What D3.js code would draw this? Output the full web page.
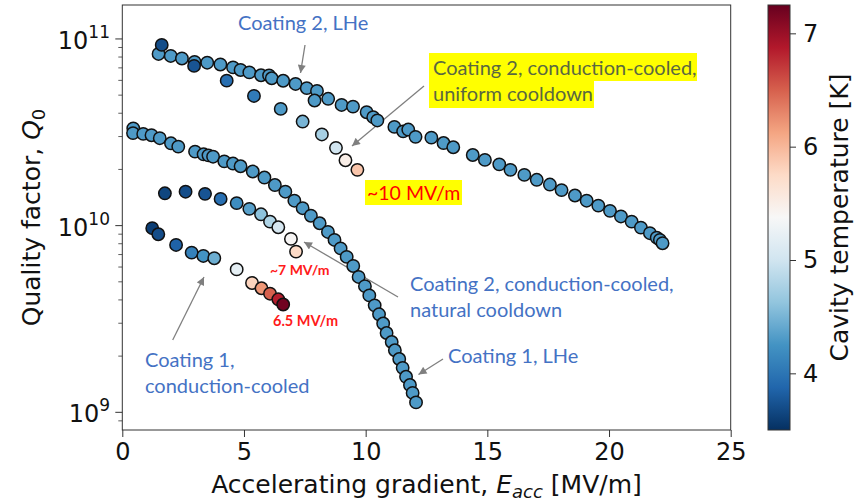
<!DOCTYPE html>
<html>
<head>
<meta charset="utf-8">
<script src="https://cdn.jsdelivr.net/npm/d3@7/dist/d3.min.js"></script>
<style>
  body { margin: 0; background: #fff; }
  svg { display: block; }
</style>
</head>
<body>
<div id="chart"></div>
<script>
// ---- data (E_acc in MV/m, Q0, cavity temperature in K) ----

// Coating 2, LHe
const c2LheE = [1.49, 1.99, 2.45, 2.97, 3.49, 4.03, 4.55, 4.86, 5.22, 5.70, 6.03, 6.14, 6.61, 7.12, 7.58, 8.00, 7.90, 8.46, 9.01, 9.48,
  10.04, 10.31, 10.48, 11.18, 11.54, 11.75, 12.05, 12.70, 13.20, 13.60, 14.40, 14.90, 15.49, 15.95, 16.52, 17.03, 17.57, 18.05, 18.60, 19.08,
  19.56, 20.04, 20.49, 20.93, 21.31, 21.68, 21.96, 22.09, 22.20];
const c2LheQ = [8.31e10, 8.11e10, 7.86e10, 7.53e10, 7.46e10, 7.30e10, 7.04e10, 6.82e10, 6.62e10, 6.39e10, 6.38e10, 6.16e10, 5.97e10, 5.74e10, 5.45e10, 5.27e10, 4.68e10, 4.78e10, 4.43e10, 4.34e10,
  4.05e10, 3.81e10, 3.66e10, 3.38e10, 3.20e10, 3.27e10, 2.99e10, 2.96e10, 2.77e10, 2.63e10, 2.39e10, 2.25e10, 2.13e10, 1.99e10, 1.87e10, 1.76e10, 1.66e10, 1.55e10, 1.45e10, 1.36e10,
  1.28e10, 1.20e10, 1.12e10, 1.05e10, 9.76e9, 9.11e9, 8.62e9, 8.38e9, 8.05e9];

// Coating 1, LHe
const c1LheE = [0.45, 0.44, 0.86, 1.20, 1.54, 2.00, 2.30, 2.99, 3.34, 3.54, 3.73, 4.19, 4.55, 4.86, 5.36, 5.84, 6.27, 6.70, 7.07, 7.41,
  7.75, 8.11, 8.45, 8.72, 8.97, 9.22, 9.49, 9.71, 9.97, 10.15, 10.37, 10.55, 10.72, 10.86, 11.07, 11.20, 11.38, 11.52, 11.66, 11.82,
  11.93, 12.07];
const c1LheQ = [3.32e10, 3.13e10, 3.10e10, 3.05e10, 2.94e10, 2.76e10, 2.65e10, 2.49e10, 2.41e10, 2.38e10, 2.34e10, 2.21e10, 2.15e10, 2.08e10, 1.95e10, 1.81e10, 1.65e10, 1.52e10, 1.36e10, 1.24e10,
  1.13e10, 1.03e10, 9.25e9, 8.38e9, 7.55e9, 6.80e9, 6.08e9, 5.31e9, 4.74e9, 4.23e9, 3.74e9, 3.35e9, 2.99e9, 2.66e9, 2.38e9, 2.15e9, 1.93e9, 1.73e9, 1.55e9, 1.40e9,
  1.27e9, 1.13e9];

const lheTemp = 4.3;

// Coating 2, conduction-cooled, uniform cooldown
const c2UniE = [1.62, 2.95, 4.29, 5.41, 6.51, 7.41, 8.20, 8.78, 9.17, 9.66];
const c2UniQ = [9.29e10, 7.17e10, 5.98e10, 4.95e10, 4.22e10, 3.61e10, 3.08e10, 2.61e10, 2.24e10, 1.99e10];
const c2UniT = [3.7, 3.75, 3.95, 4.05, 4.3, 4.5, 4.75, 5.0, 5.5, 5.9];

// Coating 2, conduction-cooled, natural cooldown
const c2NatE = [1.75, 2.60, 3.40, 4.04, 4.70, 5.22, 5.70, 6.07, 6.41, 6.93, 7.14];
const c2NatQ = [1.49e10, 1.52e10, 1.48e10, 1.39e10, 1.32e10, 1.23e10, 1.15e10, 1.05e10, 9.80e9, 8.49e9, 7.26e9];
const c2NatT = [3.65, 3.7, 3.75, 3.95, 4.2, 4.35, 4.6, 4.8, 5.05, 5.4, 5.75];

// Coating 1, conduction-cooled
const c1CondE = [1.23, 1.48, 2.21, 2.85, 3.33, 3.78, 4.70, 5.33, 5.72, 6.07, 6.41, 6.61];
const c1CondQ = [9.69e9, 8.99e9, 7.88e9, 7.17e9, 6.88e9, 6.69e9, 5.83e9, 4.93e9, 4.62e9, 4.32e9, 4.03e9, 3.78e9];
const c1CondT = [3.6, 3.7, 3.85, 4.1, 4.25, 4.45, 5.2, 5.8, 6.2, 6.5, 6.85, 7.2];

const xTicks = [0, 5, 10, 15, 20, 25];
const yDecades = [9, 10, 11];
const cbTicks = [4, 5, 6, 7];
const tRange = [3.5, 7.25];

// RdBu_r colour steps (matplotlib style, piecewise linear)
const rdbuR = ["#053061", "#2166ac", "#4393c3", "#92c5de", "#d1e5f0", "#f7f7f7",
               "#fddbc7", "#f4a582", "#d6604d", "#b2182b", "#67001f"];

// ---- layout ----
const W = 859, H = 504;
const pL = 122.3, pR = 730.7, pT = 5, pB = 430;
const cbX = 768, cbW = 22;
const tickFont = "DejaVu Sans, sans-serif";
const noteFont = "Lato, 'Open Sans', sans-serif";
const blue = "#4472c4";

const svg = d3.select("#chart").append("svg")
  .attr("width", W)
  .attr("height", H);

const x = d3.scaleLinear().domain([0, 25]).range([pL, pR]);
const y = d3.scaleLog().domain([8.04e8, 1.52e11]).range([pB, pT]);

const tScale = d3.scaleLinear()
  .domain(d3.range(rdbuR.length).map(i => tRange[0] + i * (tRange[1] - tRange[0]) / (rdbuR.length - 1)))
  .range(rdbuR)
  .interpolate(d3.interpolateRgb)
  .clamp(true);

// ---- arrow marker ----
const defs = svg.append("defs");
defs.append("marker")
  .attr("id", "arr")
  .attr("viewBox", "0 0 10 10")
  .attr("refX", 10).attr("refY", 5)
  .attr("markerWidth", 9).attr("markerHeight", 8)
  .attr("markerUnits", "userSpaceOnUse")
  .attr("orient", "auto")
  .append("path")
  .attr("d", "M0,0 L10,5 L0,10 z")
  .attr("fill", "#7f7f7f");

// ---- axes ----
const xAxis = svg.append("g")
  .attr("transform", `translate(0,${pB})`)
  .call(d3.axisBottom(x).tickValues(xTicks).tickSize(7).tickPadding(6).tickFormat(d3.format("d")));
xAxis.select(".domain").remove();
xAxis.selectAll("text").attr("font-family", tickFont).attr("font-size", 24).attr("fill", "#111");
xAxis.selectAll("line").attr("stroke", "#333");

// y axis: major and minor ticks on a log scale
const minor = [];
for (let e = 8; e <= 11; e++) for (let m = 2; m <= 9; m++) {
  const v = m * Math.pow(10, e);
  if (v >= y.domain()[0] && v <= y.domain()[1]) minor.push(v);
}
const yg = svg.append("g");
yg.selectAll("line.minor").data(minor).join("line").attr("class", "minor")
  .attr("x1", pL - 4).attr("x2", pL)
  .attr("y1", d => y(d)).attr("y2", d => y(d))
  .attr("stroke", "#333").attr("stroke-width", 0.8);
yg.selectAll("line.major").data(yDecades).join("line").attr("class", "major")
  .attr("x1", pL - 7).attr("x2", pL)
  .attr("y1", d => y(Math.pow(10, d))).attr("y2", d => y(Math.pow(10, d)))
  .attr("stroke", "#333").attr("stroke-width", 1);
const yl = yg.selectAll("text").data(yDecades).join("text")
  .attr("x", 110)
  .attr("y", d => y(Math.pow(10, d)) + 10)
  .attr("text-anchor", "end")
  .attr("font-family", tickFont).attr("font-size", 24).attr("fill", "#111");
yl.append("tspan").text("10");
yl.append("tspan").attr("dy", -11).attr("font-size", 17).text(d => d);

// frame
svg.append("rect")
  .attr("x", pL).attr("y", pT)
  .attr("width", pR - pL).attr("height", pB - pT)
  .attr("fill", "none").attr("stroke", "#333").attr("stroke-width", 1);

// axis labels
const xl = svg.append("text")
  .attr("x", (pL + pR) / 2).attr("y", 493)
  .attr("text-anchor", "middle")
  .attr("font-family", tickFont).attr("font-size", 25).attr("fill", "#111");
xl.append("tspan").text("Accelerating gradient, ");
xl.append("tspan").attr("font-style", "italic").text("E");
xl.append("tspan").attr("font-style", "italic").attr("font-size", 18).attr("dy", 5).text("acc");
xl.append("tspan").attr("dy", -5).text(" [MV/m]");

const ylab = svg.append("text")
  .attr("transform", `translate(40,${(pT + pB) / 2}) rotate(-90)`)
  .attr("text-anchor", "middle")
  .attr("font-family", tickFont).attr("font-size", 25).attr("fill", "#111");
ylab.append("tspan").text("Quality factor, ");
ylab.append("tspan").attr("font-style", "italic").text("Q");
ylab.append("tspan").attr("font-size", 18).attr("dy", 5).text("0");

// ---- annotations (drawn under the points) ----
function note(lines, x0, y0, lh, color, size, weight) {
  const t = svg.append("text")
    .attr("font-family", noteFont).attr("font-size", size)
    .attr("font-weight", weight || "normal").attr("fill", color);
  lines.forEach((s, i) => t.append("tspan").attr("x", x0).attr("y", y0 + i * lh).text(s));
  return t;
}
function arrow(x1, y1, x2, y2) {
  svg.append("line")
    .attr("x1", x1).attr("y1", y1).attr("x2", x2).attr("y2", y2)
    .attr("stroke", "#7f7f7f").attr("stroke-width", 1.3)
    .attr("marker-end", "url(#arr)");
}

// yellow highlights
svg.append("rect").attr("x", 429).attr("y", 53).attr("width", 268).attr("height", 28).attr("fill", "#ffff00");
svg.append("rect").attr("x", 429).attr("y", 80).attr("width", 165).attr("height", 28).attr("fill", "#ffff00");
svg.append("rect").attr("x", 365).attr("y", 180).attr("width", 97).attr("height", 25).attr("fill", "#ffff00");

note(["Coating 2, LHe"], 238, 30, 26, blue, 20);
arrow(305, 45, 300.5, 73);

note(["Coating 2, conduction-cooled,", "uniform cooldown"], 433, 75, 26, "#5a6840", 20);
arrow(424, 86, 352, 146);

note(["~10 MV/m"], 367, 200, 26, "#ff0000", 19.5);

note(["Coating 2, conduction-cooled,", "natural cooldown"], 410, 291, 26, blue, 20);
arrow(398, 297, 304, 242);

note(["Coating 1, LHe"], 448, 363, 26, blue, 20);
arrow(443, 359, 418.5, 374.5);

note(["Coating 1,", "conduction-cooled"], 145, 367, 26, blue, 20);
arrow(172.7, 340, 204, 277);

note(["~7 MV/m"], 270, 275, 20, "#ff1a1a", 14, "bold");
note(["6.5 MV/m"], 273, 326, 20, "#ff1a1a", 14.5, "bold");

// ---- points ----
const series = [
  {E: c2LheE, Q: c2LheQ, T: c2LheE.map(() => lheTemp)},
  {E: c1LheE, Q: c1LheQ, T: c1LheE.map(() => lheTemp)},
  {E: c2UniE, Q: c2UniQ, T: c2UniT},
  {E: c2NatE, Q: c2NatQ, T: c2NatT},
  {E: c1CondE, Q: c1CondQ, T: c1CondT}
];
const pts = svg.append("g");
series.forEach(s => {
  const rows = s.E.map((e, i) => ({e, q: s.Q[i], t: s.T[i]}));
  pts.append("g").selectAll("circle").data(rows).join("circle")
    .attr("cx", d => x(d.e))
    .attr("cy", d => y(d.q))
    .attr("r", 6.2)
    .attr("fill", d => tScale(d.t))
    .attr("stroke", "#111")
    .attr("stroke-width", 1.5);
});

// ---- colour bar ----
const grad = defs.append("linearGradient")
  .attr("id", "cbGrad")
  .attr("x1", 0).attr("y1", 1).attr("x2", 0).attr("y2", 0);
d3.range(0, 1.0001, 0.05).forEach(f => {
  grad.append("stop")
    .attr("offset", f)
    .attr("stop-color", tScale(tRange[0] + f * (tRange[1] - tRange[0])));
});
const cb = d3.scaleLinear().domain(tRange).range([pB, pT]);
svg.append("rect")
  .attr("x", cbX).attr("y", pT).attr("width", cbW).attr("height", pB - pT)
  .attr("fill", "url(#cbGrad)").attr("stroke", "#333").attr("stroke-width", 1);
const cbAxis = svg.append("g")
  .attr("transform", `translate(${cbX + cbW},0)`)
  .call(d3.axisRight(cb).tickValues(cbTicks).tickSize(6).tickPadding(7).tickFormat(d3.format("d")));
cbAxis.select(".domain").remove();
cbAxis.selectAll("text").attr("font-family", tickFont).attr("font-size", 24).attr("fill", "#111");
cbAxis.selectAll("line").attr("stroke", "#333");

svg.append("text")
  .attr("transform", `translate(848,${(pT + pB) / 2}) rotate(-90)`)
  .attr("text-anchor", "middle")
  .attr("font-family", tickFont).attr("font-size", 25).attr("fill", "#111")
  .text("Cavity temperature [K]");
</script>
</body>
</html>
